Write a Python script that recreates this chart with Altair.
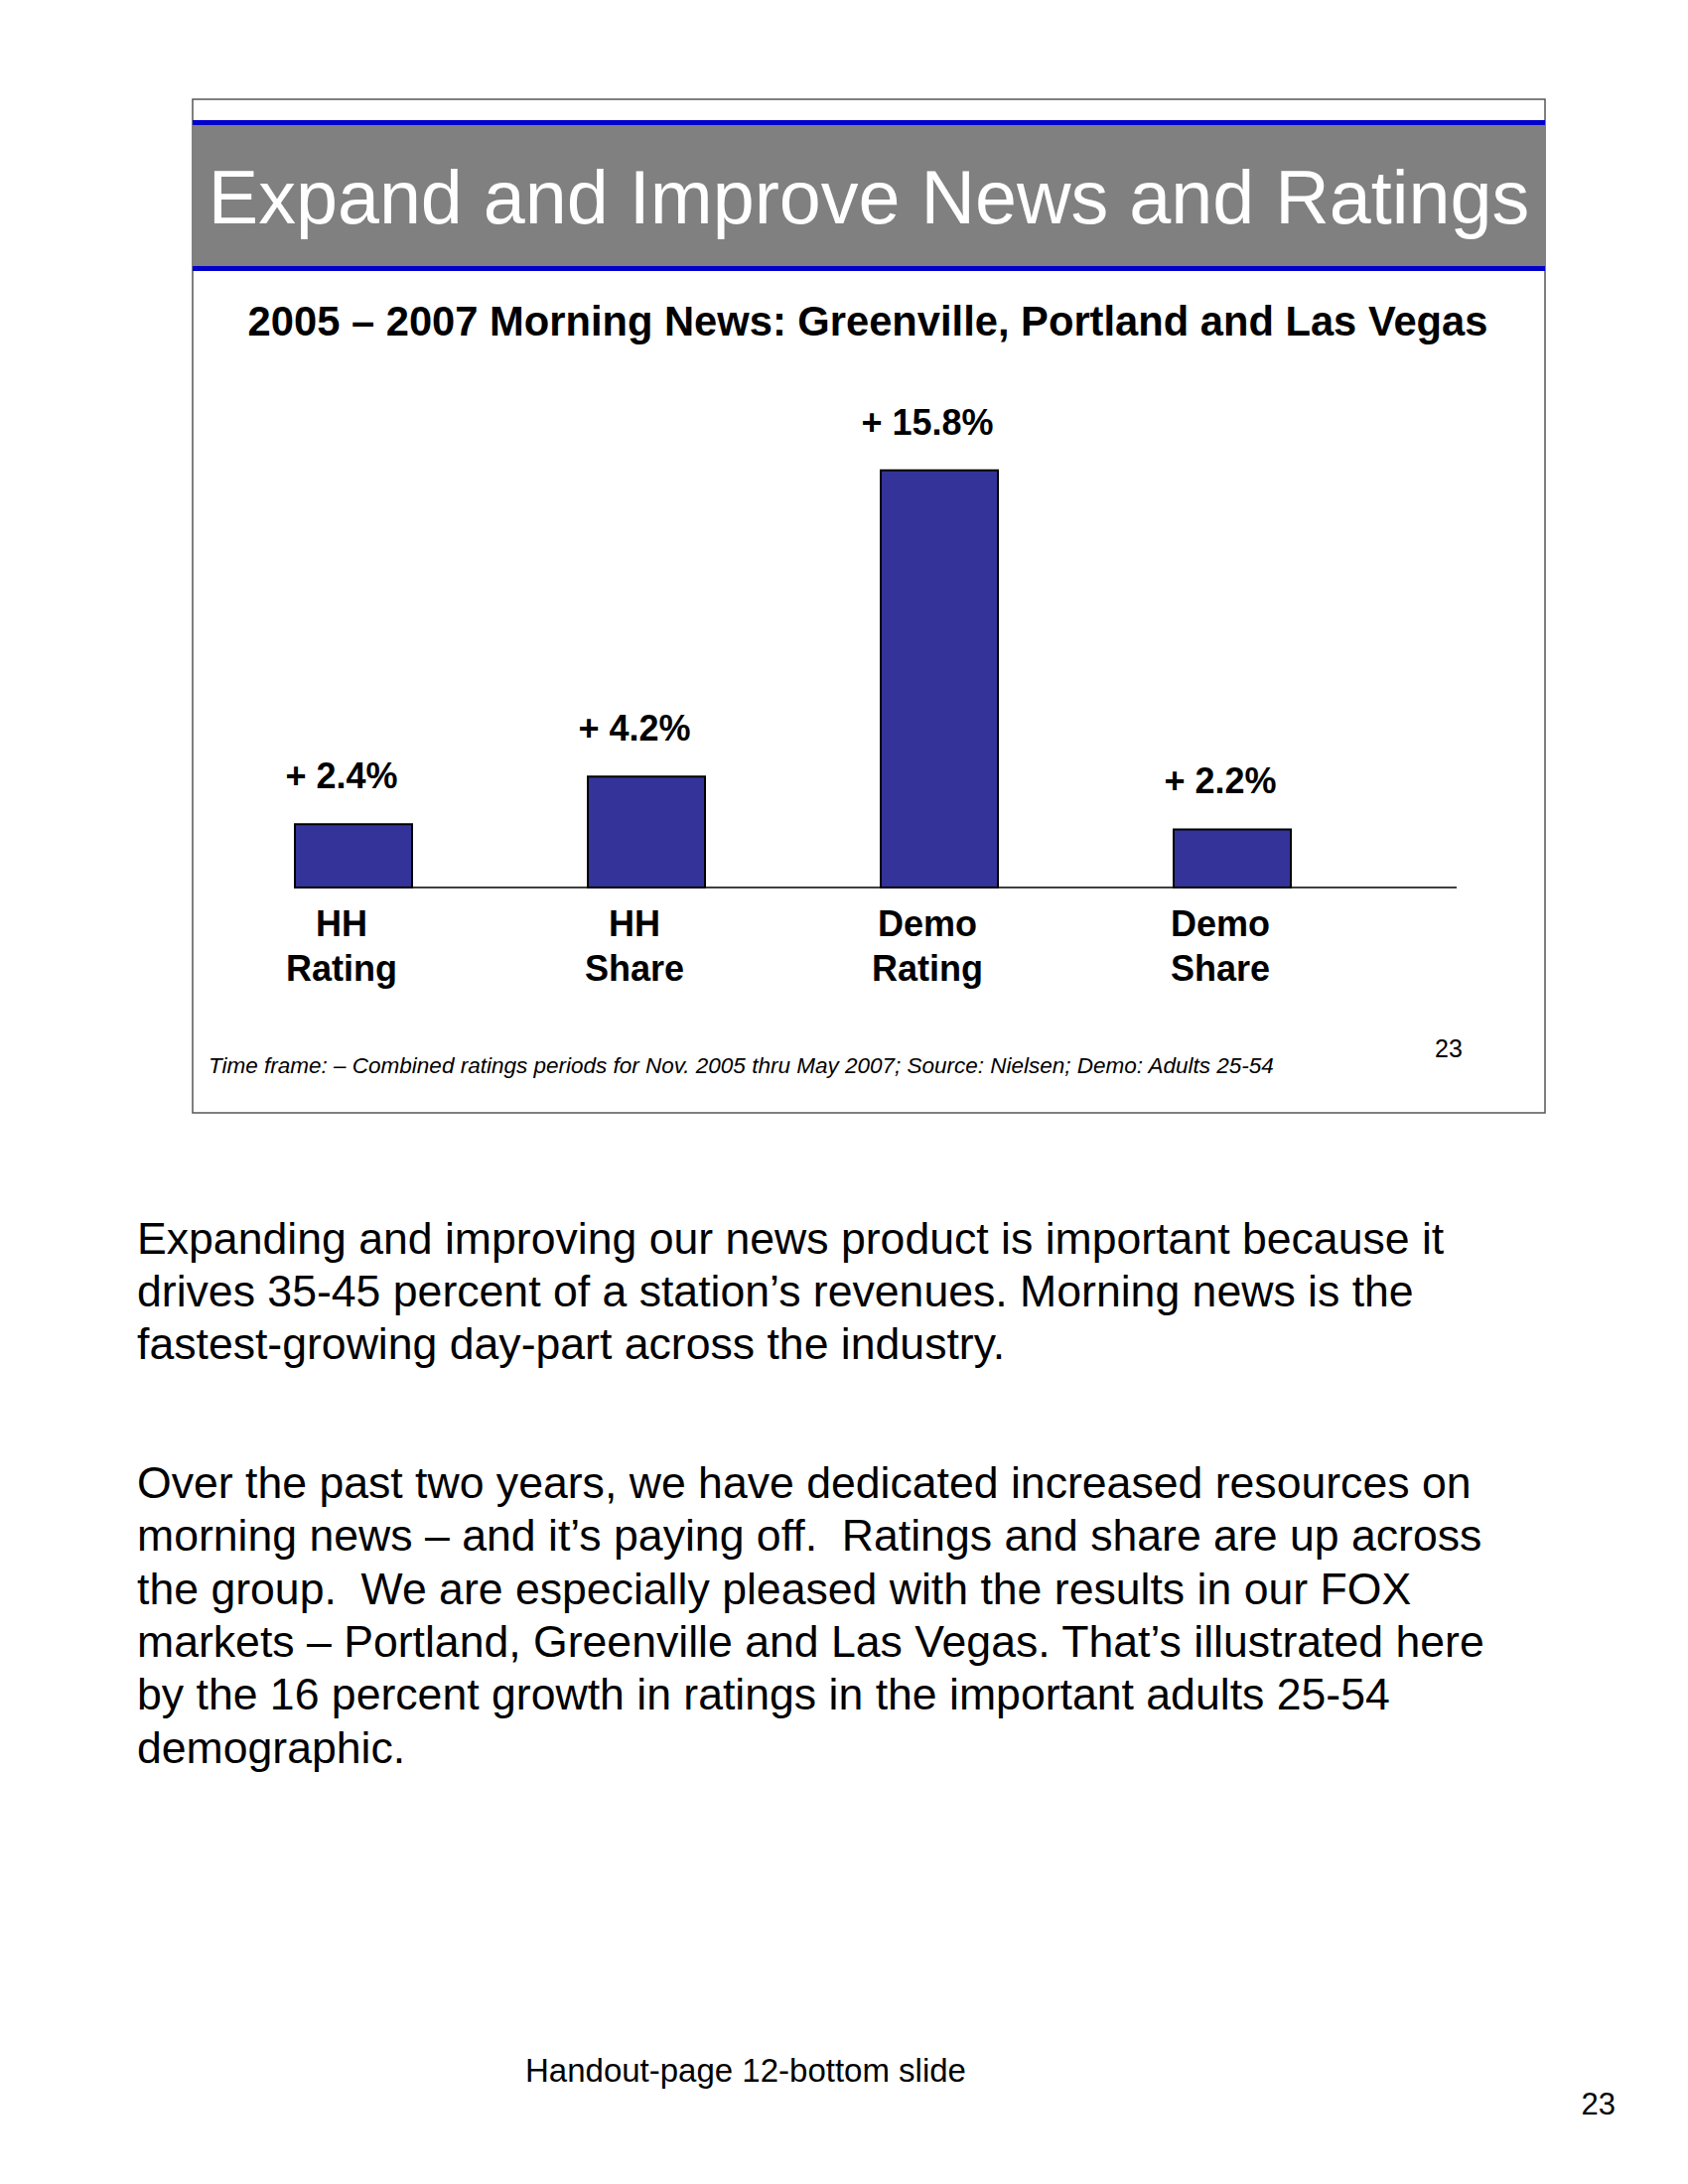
import altair as alt
import pandas as pd

# ---- data ----
categories = ["HH Rating", "HH Share", "Demo Rating", "Demo Share"]
changes = [2.4, 4.2, 15.8, 2.2]

slide_title = "Expand and Improve News and Ratings"
chart_subtitle = "2005 – 2007 Morning News: Greenville, Portland and Las Vegas"
footnote = ("Time frame: – Combined ratings periods for Nov. 2005 thru May 2007; "
            "Source: Nielsen; Demo: Adults 25-54")
slide_number = "23"
paragraph1 = [
    "Expanding and improving our news product is important because it",
    "drives 35-45 percent of a station’s revenues. Morning news is the",
    "fastest-growing day-part across the industry.",
]
paragraph2 = [
    "Over the past two years, we have dedicated increased resources on",
    "morning news – and it’s paying off.\u00a0 Ratings and share are up across",
    "the group.\u00a0 We are especially pleased with the results in our FOX",
    "markets – Portland, Greenville and Las Vegas. That’s illustrated here",
    "by the 16 percent growth in ratings in the important adults 25-54",
    "demographic.",
]
footer = "Handout-page 12-bottom slide"
page_number = "23"

bars_df = pd.DataFrame({"category": categories, "change": changes})
one = pd.DataFrame({"k": [0]})

FONT = "Liberation Sans"

x_scale = alt.Scale(type="band", domain=categories, range=[289, 1292], paddingInner=0.6, paddingOuter=0)
y_scale = alt.Scale(domain=[0, 16], range=[886, 460.4], nice=False, zero=True)
X = alt.X("category:N", scale=x_scale, axis=None)
Y = alt.Y("change:Q", scale=y_scale, axis=None)

# slide frame
frame = alt.Chart(one).mark_rect(fillOpacity=0, stroke="#555555", strokeWidth=1.5).encode(
    x=alt.value(186), x2=alt.value(1548), y=alt.value(92), y2=alt.value(1113)
)
band = alt.Chart(one).mark_rect(color="#808080").encode(
    x=alt.value(186), x2=alt.value(1548), y=alt.value(118), y2=alt.value(260)
)
blue_top = alt.Chart(one).mark_rect(color="#0000cc").encode(
    x=alt.value(186), x2=alt.value(1548), y=alt.value(113), y2=alt.value(118)
)
blue_bot = alt.Chart(one).mark_rect(color="#0000cc").encode(
    x=alt.value(186), x2=alt.value(1548), y=alt.value(260), y2=alt.value(265)
)
title = alt.Chart(one).mark_text(
    font=FONT, fontSize=75.5, color="white", align="center", baseline="alphabetic"
).encode(x=alt.value(867), y=alt.value(217), text=alt.value(slide_title))
subtitle = alt.Chart(one).mark_text(
    font=FONT, fontSize=41.7, fontWeight="bold", color="black", align="center", baseline="alphabetic"
).encode(x=alt.value(866), y=alt.value(330), text=alt.value(chart_subtitle))

bars = alt.Chart(bars_df).mark_bar(color="#333399", stroke="black", strokeWidth=2).encode(x=X, y=Y)
baseline = alt.Chart(one).transform_calculate(base="0").mark_rule(
    color="black", strokeWidth=1.5
).encode(
    x=alt.value(289), x2=alt.value(1459), y=alt.Y("base:Q", scale=y_scale, axis=None)
)
value_labels = alt.Chart(bars_df).transform_calculate(
    label='"+ " + format(datum.change, ".1f") + "%"'
).mark_text(
    font=FONT, fontSize=36, fontWeight="bold", align="center", baseline="alphabetic", dx=-12, dy=-36
).encode(x=X, y=Y, text="label:N")
cat_labels = alt.Chart(bars_df).mark_text(
    font=FONT, fontSize=36, fontWeight="bold", align="center", baseline="alphabetic",
    dx=-12, lineBreak=" ", lineHeight=44.7
).encode(x=X, y=alt.value(935), text="category:N")

note = alt.Chart(one).mark_text(
    font=FONT, fontSize=22.5, fontStyle="italic", align="left", baseline="alphabetic"
).encode(x=alt.value(202), y=alt.value(1073), text=alt.value(footnote))
slide_no = alt.Chart(one).mark_text(
    font=FONT, fontSize=25, align="center", baseline="alphabetic"
).encode(x=alt.value(1451), y=alt.value(1057), text=alt.value(slide_number))

para1 = alt.Chart(one).mark_text(
    font=FONT, fontSize=44.6, align="left", baseline="alphabetic", lineBreak="\n", lineHeight=53
).encode(x=alt.value(130), y=alt.value(1255), text=alt.value("\n".join(paragraph1)))
para2 = alt.Chart(one).mark_text(
    font=FONT, fontSize=44.6, align="left", baseline="alphabetic", lineBreak="\n", lineHeight=53.3
).encode(x=alt.value(130), y=alt.value(1501), text=alt.value("\n".join(paragraph2)))
foot = alt.Chart(one).mark_text(
    font=FONT, fontSize=33, align="left", baseline="alphabetic"
).encode(x=alt.value(521), y=alt.value(2089), text=alt.value(footer))
page_no = alt.Chart(one).mark_text(
    font=FONT, fontSize=31, align="right", baseline="alphabetic"
).encode(x=alt.value(1619), y=alt.value(2122), text=alt.value(page_number))

chart = alt.layer(
    frame, band, blue_top, blue_bot, title, subtitle,
    baseline, bars, value_labels, cat_labels, note, slide_no,
    para1, para2, foot, page_no,
).resolve_scale(
    x="independent", y="independent"
).properties(
    width=1684, height=2184, padding=0, autosize="none", background="white"
).configure_view(strokeWidth=0)

chart.save("out.html", embed_options={"renderer": "svg", "actions": False})
